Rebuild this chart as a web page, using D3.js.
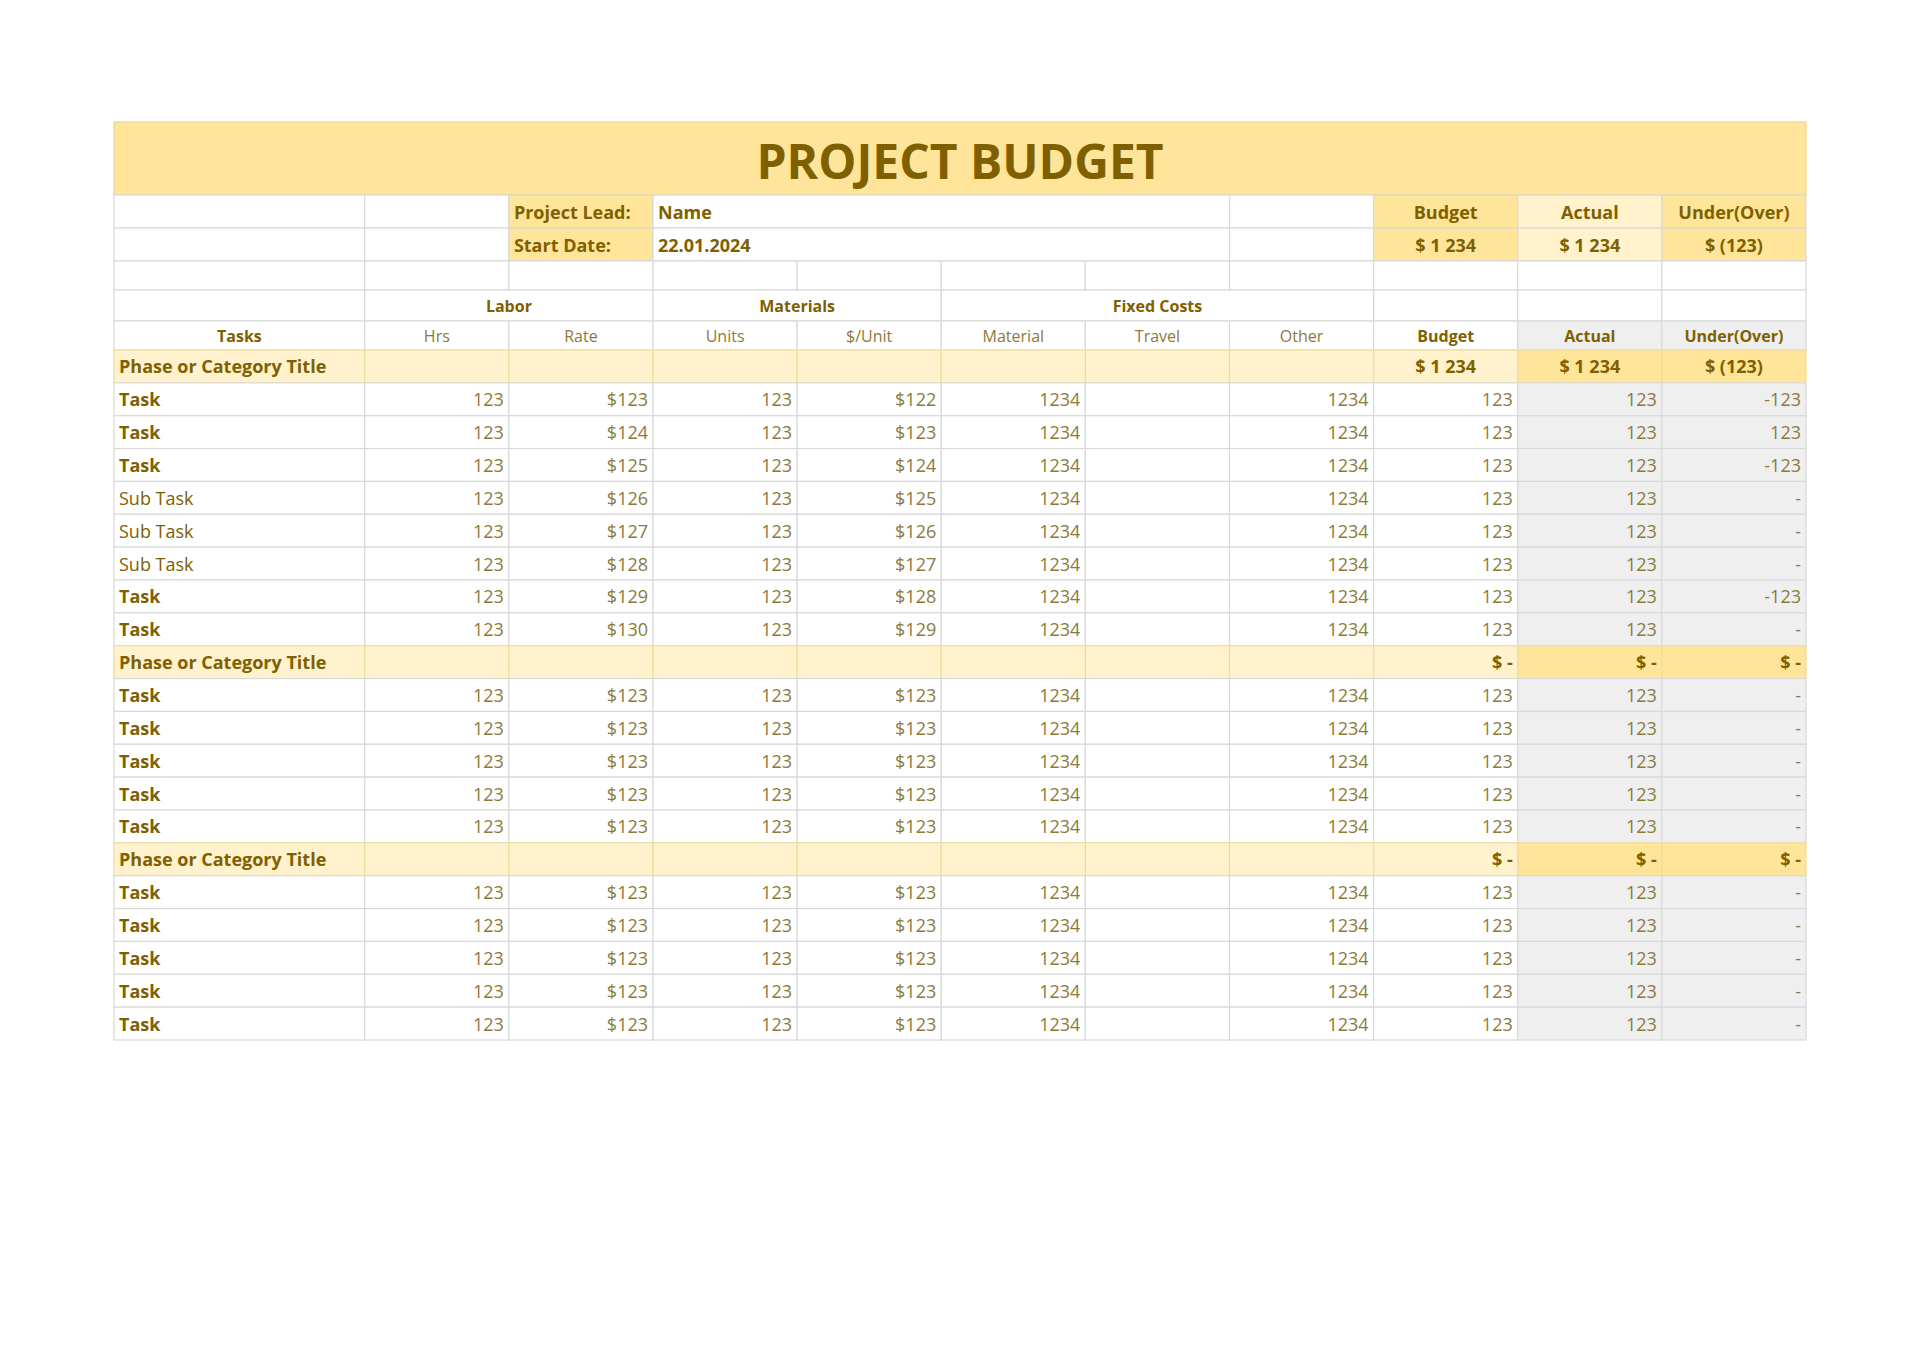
<!DOCTYPE html>
<html>
<head>
<meta charset="utf-8">
<script src="https://cdn.jsdelivr.net/npm/d3@7"></script>
<style>
  body { margin: 0; background: #fff; }
  svg text { font-family: "Open Sans", "Noto Sans", sans-serif; }
</style>
</head>
<body>
<svg id="sheet"></svg>
<script>
// column widths (relative units) and header labels
const colWeights = [1.74, 1, 1, 1, 1, 1, 1, 1, 1, 1, 1];
const groupLabels = [["Labor", 1, 3], ["Materials", 3, 5], ["Fixed Costs", 5, 8]];
const subHeaders = ["Tasks", "Hrs", "Rate", "Units", "$/Unit", "Material", "Travel", "Other", "Budget", "Actual", "Under(Over)"];
const summaryHeaders = ["Budget", "Actual", "Under(Over)"];
const summaryValues = ["$ 1 234", "$ 1 234", "$ (123)"];

// data rows: type, label, hrs, rate, units, per unit, material, travel, other, budget, actual, under
const rowTypes = ["phase","task","task","task","sub","sub","sub","task","task",
                  "phase","task","task","task","task","task",
                  "phase","task","task","task","task","task"];
const rowLabels = ["Phase or Category Title","Task","Task","Task","Sub Task","Sub Task","Sub Task","Task","Task",
                   "Phase or Category Title","Task","Task","Task","Task","Task",
                   "Phase or Category Title","Task","Task","Task","Task","Task"];
const hrs =      [null,123,123,123,123,123,123,123,123, null,123,123,123,123,123, null,123,123,123,123,123];
const rate =     [null,123,124,125,126,127,128,129,130, null,123,123,123,123,123, null,123,123,123,123,123];
const units =    [null,123,123,123,123,123,123,123,123, null,123,123,123,123,123, null,123,123,123,123,123];
const perUnit =  [null,122,123,124,125,126,127,128,129, null,123,123,123,123,123, null,123,123,123,123,123];
const material = [null,1234,1234,1234,1234,1234,1234,1234,1234, null,1234,1234,1234,1234,1234, null,1234,1234,1234,1234,1234];
const other =    [null,1234,1234,1234,1234,1234,1234,1234,1234, null,1234,1234,1234,1234,1234, null,1234,1234,1234,1234,1234];
const budget =   ["$ 1 234",123,123,123,123,123,123,123,123, "$ -",123,123,123,123,123, "$ -",123,123,123,123,123];
const actual =   ["$ 1 234",123,123,123,123,123,123,123,123, "$ -",123,123,123,123,123, "$ -",123,123,123,123,123];
const under =    ["$ (123)",-123,123,-123,0,0,0,-123,0, "$ -",0,0,0,0,0, "$ -",0,0,0,0,0];

const W = 1920, H = 1357;
const left = 114, right = 1806;
const dark = "#7f6000", light = "#8c7a3c", grid = "#d9d9d9";

const svg = d3.select("#sheet").attr("width", W).attr("height", H);

const edges = [0];
colWeights.forEach(w => edges.push(edges[edges.length - 1] + w));
const x = d3.scaleLinear().domain([0, edges[edges.length - 1]]).range([left, right]);
const cx = i => x(edges[i]);
const cw = i => x(edges[i + 1]) - x(edges[i]);

// top section row edges
const topEdges = [122, 195, 228, 261, 290, 321, 350];
const y = d3.scaleBand().domain(d3.range(rowTypes.length)).range([350, 1040]).padding(0);

function cell(x0, y0, w, h, fill, stroke) {
  svg.append("rect").attr("x", x0).attr("y", y0).attr("width", w).attr("height", h)
    .attr("fill", fill).attr("stroke", stroke || grid).attr("stroke-width", 1.2);
}
function txt(t, x0, y0, anchor, size, weight, color) {
  svg.append("text").attr("x", x0).attr("y", y0).attr("text-anchor", anchor)
    .attr("dominant-baseline", "central").attr("font-size", size)
    .attr("font-weight", weight).attr("fill", color).text(t);
}

// title
cell(left, topEdges[0], right - left, topEdges[1] - topEdges[0], "#ffe599", "#f1d58a");
txt("PROJECT BUDGET", (left + right) / 2, (topEdges[0] + topEdges[1]) / 2 + 2, "middle", 48, 700, dark);

// project lead / start date rows
for (let r = 1; r <= 4; r++) {
  const y0 = topEdges[r], h = topEdges[r + 1] - y0;
  for (let c = 0; c < 11; c++) {
    if (r <= 2 && (c === 3)) continue;
    let fill = "#fff";
    if (r <= 2 && c === 2) fill = "#ffe599";
    if (r <= 2 && c === 8) fill = "#ffe599";
    if (r <= 2 && c === 9) fill = "#fff2cc";
    if (r <= 2 && c === 10) fill = "#ffe599";
    if (r <= 2 && c >= 4 && c <= 6) continue;
    if (r === 4 && c >= 1 && c <= 7) continue;
    cell(cx(c), y0, cw(c), h, fill);
  }
  if (r <= 2) cell(cx(3), y0, x(edges[7]) - cx(3), h, "#fff");
  if (r === 4) {
    groupLabels.forEach(g => {
      cell(x(edges[g[1]]), y0, x(edges[g[2]]) - x(edges[g[1]]), h, "#fff");
      txt(g[0], (x(edges[g[1]]) + x(edges[g[2]])) / 2, y0 + h / 2, "middle", 16, 700, dark);
    });
  }
}
txt("Project Lead:", cx(2) + 5, (topEdges[1] + topEdges[2]) / 2, "start", 18, 700, dark);
txt("Start Date:", cx(2) + 5, (topEdges[2] + topEdges[3]) / 2, "start", 18, 700, dark);
txt("Name", cx(3) + 5, (topEdges[1] + topEdges[2]) / 2, "start", 18, 700, dark);
txt("22.01.2024", cx(3) + 5, (topEdges[2] + topEdges[3]) / 2, "start", 18, 700, dark);
summaryHeaders.forEach((t, i) => txt(t, cx(8 + i) + cw(8 + i) / 2, (topEdges[1] + topEdges[2]) / 2, "middle", 18, 700, dark));
summaryValues.forEach((t, i) => txt(t, cx(8 + i) + cw(8 + i) / 2, (topEdges[2] + topEdges[3]) / 2, "middle", 18, 700, dark));

// sub header row
subHeaders.forEach((t, c) => {
  const y0 = topEdges[5], h = topEdges[6] - y0;
  cell(cx(c), y0, cw(c), h, c >= 9 ? "#efefef" : "#fff");
  const bold = c === 0 || c >= 8;
  txt(t, cx(c) + cw(c) / 2, y0 + h / 2, "middle", 16, bold ? 700 : 400, bold ? dark : light);
});

// data rows
const fmt = (v, c) => {
  if (v === null) return "";
  if (typeof v === "string") return v;
  if (c === 10) return v === 0 ? "-" : String(v);
  if (c === 2 || c === 4) return "$" + v;
  return String(v);
};
rowTypes.forEach((type, i) => {
  const y0 = y(i), h = y.bandwidth(), ym = y0 + h / 2;
  const vals = [rowLabels[i], hrs[i], rate[i], units[i], perUnit[i], material[i], null, other[i], budget[i], actual[i], under[i]];
  vals.forEach((v, c) => {
    let fill = "#fff", stroke = grid;
    if (type === "phase") {
      fill = (c === 9 || c === 10) ? "#ffe599" : "#fff2cc";
      stroke = "#f1dc9c";
    } else if (c >= 9) fill = "#efefef";
    cell(cx(c), y0, cw(c), h, fill, stroke);
    const t = fmt(v, c);
    if (!t) return;
    if (c === 0) {
      txt(t, cx(0) + 5, ym, "start", 18, type === "sub" ? 400 : 700, dark);
    } else if (type === "phase" && i === 0) {
      txt(t, cx(c) + cw(c) / 2, ym, "middle", 18, 700, dark);
    } else if (type === "phase") {
      txt(t, cx(c + 1) - 5, ym, "end", 18, 700, dark);
    } else {
      txt(t, cx(c + 1) - 5, ym, "end", 18, 400, light);
    }
  });
});
</script>
</body>
</html>
